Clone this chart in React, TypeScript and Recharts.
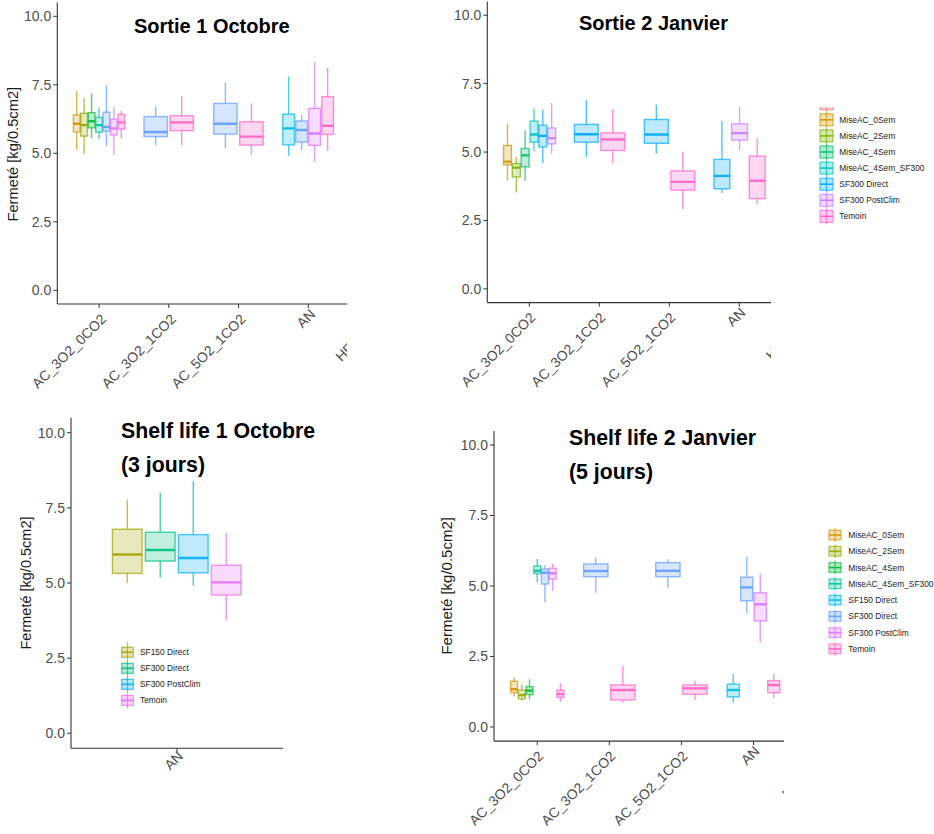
import React from 'react';
import { ComposedChart, Bar, XAxis, YAxis } from 'recharts';

type Stat = [number, number, number, number, number] | null; // [min, q1, median, q3, max]

const FONT = '"Liberation Sans", Arial, Helvetica, sans-serif';

// ---------- shared ----------
const yTicks = [0, 2.5, 5, 7.5, 10];
const yDomain = [-0.5, 10.5];
const hiddenLevelColor = '#F8766D';
const palette9 = ['#D39200', '#93AA00', '#00BA38', '#00C19F', '#00B9E3', '#619CFF', '#DB72FB', '#FF61C3'];
const palette8 = ['#CD9600', '#7CAE00', '#00BE67', '#00BFC4', '#00A9FF', '#C77CFF', '#FF61CC'];
const palette5 = ['#A3A500', '#00BF7D', '#00B0F6', '#E76BF3'];

// ---------- Panel 1 : Sortie 1 Octobre ----------
const sortie1Categories = ['AC_3O2_0CO2', 'AC_3O2_1CO2', 'AC_5O2_1CO2', 'AN', 'HF_1CO2'];
const sortie1Names = ['MiseAC_0Sem', 'MiseAC_2Sem', 'MiseAC_4Sem', 'MiseAC_4Sem_SF300', 'SF150 Direct', 'SF300 Direct', 'SF300 PostClim', 'Temoin'];
const s1MiseAC0Sem: Stat[] = [[5.12, 5.78, 6.08, 6.4, 7.27], null, null, null, null];
const s1MiseAC2Sem: Stat[] = [[4.97, 5.63, 6.03, 6.46, 7.03], null, null, null, null];
const s1MiseAC4Sem: Stat[] = [[5.55, 5.93, 6.17, 6.48, 7.19], null, null, null, null];
const s1MiseAC4SemSF300: Stat[] = [[5.51, 5.77, 6.03, 6.31, 6.66], null, null, null, null];
const s1SF150Direct: Stat[] = [null, null, null, [4.9, 5.31, 5.91, 6.43, 7.8], null];
const s1SF300Direct: Stat[] = [[5.27, 5.81, 5.96, 6.5, 7.49], [5.29, 5.61, 5.78, 6.34, 6.72], [5.18, 5.7, 6.08, 6.82, 7.59], [5.1, 5.41, 5.85, 6.18, 6.39], null];
const s1SF300PostClim: Stat[] = [[4.94, 5.67, 5.91, 6.24, 6.7], null, null, [4.69, 5.29, 5.72, 6.64, 8.33], null];
const s1Temoin: Stat[] = [[5.55, 5.88, 6.13, 6.42, 6.55], [5.29, 5.83, 6.13, 6.37, 7.09], [4.96, 5.3, 5.61, 6.15, 6.82], [5.08, 5.69, 6.0, 7.07, 8.12], null];

// ---------- Panel 2 : Sortie 2 Janvier ----------
const sortie2Categories = ['AC_3O2_0CO2', 'AC_3O2_1CO2', 'AC_5O2_1CO2', 'AN', 'HF_1CO2'];
const sortie2Names = ['MiseAC_0Sem', 'MiseAC_2Sem', 'MiseAC_4Sem', 'MiseAC_4Sem_SF300', 'SF300 Direct', 'SF300 PostClim', 'Temoin'];
const s2MiseAC0Sem: Stat[] = [[3.95, 4.53, 4.65, 5.24, 6.03], null, null, null, null];
const s2MiseAC2Sem: Stat[] = [[3.52, 4.09, 4.43, 4.58, 4.82], null, null, null, null];
const s2MiseAC4Sem: Stat[] = [[3.95, 4.46, 4.88, 5.13, 5.8], null, null, null, null];
const s2MiseAC4SemSF300: Stat[] = [[5.04, 5.36, 5.64, 6.13, 6.59], null, null, null, null];
const s2SF300Direct: Stat[] = [[4.59, 5.19, 5.59, 5.98, 6.55], [4.83, 5.36, 5.65, 6.01, 6.89], [4.95, 5.32, 5.64, 6.19, 6.73], [3.5, 3.66, 4.13, 4.73, 6.13], null];
const s2SF300PostClim: Stat[] = [[4.95, 5.3, 5.51, 5.88, 6.79], null, null, [5.06, 5.44, 5.69, 6.03, 6.65], null];
const s2Temoin: Stat[] = [null, [4.59, 5.06, 5.46, 5.7, 6.57], [2.92, 3.61, 3.91, 4.31, 5.01], [3.08, 3.3, 3.95, 4.85, 5.5], null];

// ---------- Panel 3 : Shelf life 1 Octobre ----------
const shelf1Categories = ['AN'];
const shelf1Names = ['SF150 Direct', 'SF300 Direct', 'SF300 PostClim', 'Temoin'];
const sh1SF150Direct: Stat[] = [[4.99, 5.32, 5.95, 6.79, 7.78]];
const sh1SF300Direct: Stat[] = [[5.18, 5.73, 6.1, 6.69, 8.0]];
const sh1SF300PostClim: Stat[] = [[4.91, 5.34, 5.83, 6.61, 8.39]];
const sh1Temoin: Stat[] = [[3.75, 4.6, 5.02, 5.59, 6.67]];

// ---------- Panel 4 : Shelf life 2 Janvier ----------
const shelf2Categories = ['AC_3O2_0CO2', 'AC_3O2_1CO2', 'AC_5O2_1CO2', 'AN', 'HF_1CO2'];
const shelf2Names = ['MiseAC_0Sem', 'MiseAC_2Sem', 'MiseAC_4Sem', 'MiseAC_4Sem_SF300', 'SF150 Direct', 'SF300 Direct', 'SF300 PostClim', 'Temoin'];
const sh2MiseAC0Sem: Stat[] = [[1.08, 1.22, 1.34, 1.62, 1.76], null, null, null, null];
const sh2MiseAC2Sem: Stat[] = [[0.93, 1.0, 1.13, 1.31, 1.52], null, null, null, null];
const sh2MiseAC4Sem: Stat[] = [[0.98, 1.15, 1.29, 1.43, 1.69], null, null, null, null];
const sh2MiseAC4SemSF300: Stat[] = [[5.13, 5.44, 5.54, 5.71, 5.96], null, null, null, null];
const sh2SF150Direct: Stat[] = [null, null, null, [0.86, 1.07, 1.31, 1.52, 1.88], null];
const sh2SF300Direct: Stat[] = [[4.42, 5.07, 5.47, 5.6, 5.74], [4.76, 5.33, 5.53, 5.78, 6.02], [4.92, 5.33, 5.54, 5.83, 5.95], [4.03, 4.48, 4.95, 5.31, 6.04], null];
const sh2SF300PostClim: Stat[] = [[4.83, 5.24, 5.45, 5.63, 5.8], null, null, [3.0, 3.76, 4.35, 4.76, 5.45], null];
const sh2Temoin: Stat[] = [[0.89, 1.05, 1.17, 1.3, 1.55], [0.86, 0.96, 1.31, 1.49, 2.16], [0.96, 1.16, 1.37, 1.49, 1.64], [1.02, 1.22, 1.49, 1.64, 1.9], null];

// ---------- helpers ----------
type Series = { name: string; color: string; stats: Stat[] };

function makeSeries(names: string[], colors: string[], stats: Stat[][]): Series[] {
  return names.map((name, i) => ({ name, color: colors[i], stats: stats[i] }));
}

function buildRows(categories: string[], series: Series[]) {
  return categories.map((cat, ci) => {
    const boxes = series
      .filter((s) => s.stats[ci])
      .map((s) => ({ color: s.color, stat: s.stats[ci] as [number, number, number, number, number] }));
    const range = boxes.length
      ? [Math.min(...boxes.map((b) => b.stat[0])), Math.max(...boxes.map((b) => b.stat[4]))]
      : null;
    return { cat, boxes, range };
  });
}

const series1 = makeSeries(sortie1Names, palette9, [s1MiseAC0Sem, s1MiseAC2Sem, s1MiseAC4Sem, s1MiseAC4SemSF300, s1SF150Direct, s1SF300Direct, s1SF300PostClim, s1Temoin]);
const series2 = makeSeries(sortie2Names, palette8, [s2MiseAC0Sem, s2MiseAC2Sem, s2MiseAC4Sem, s2MiseAC4SemSF300, s2SF300Direct, s2SF300PostClim, s2Temoin]);
const series3 = makeSeries(shelf1Names, palette5, [sh1SF150Direct, sh1SF300Direct, sh1SF300PostClim, sh1Temoin]);
const series4 = makeSeries(shelf2Names, palette9, [sh2MiseAC0Sem, sh2MiseAC2Sem, sh2MiseAC4Sem, sh2MiseAC4SemSF300, sh2SF150Direct, sh2SF300Direct, sh2SF300PostClim, sh2Temoin]);

const rows1 = buildRows(sortie1Categories, series1);
const rows2 = buildRows(sortie2Categories, series2);
const rows3 = buildRows(shelf1Categories, series3);
const rows4 = buildRows(shelf2Categories, series4);

function BoxGroupShape(props: any) {
  const { x, y, width, height, payload } = props;
  const boxes = payload && payload.boxes;
  if (!boxes || boxes.length === 0 || !payload.range) return <g />;
  const top = Math.min(y, y + height);
  const bottom = Math.max(y, y + height);
  const lo = payload.range[0];
  const hi = payload.range[1];
  const py = (v: number) => top + ((hi - v) / (hi - lo)) * (bottom - top);
  const n = boxes.length;
  const slot = width / n;
  return (
    <g>
      {boxes.map((b: any, i: number) => {
        const bw = slot * 0.9;
        const bx = x + i * slot + (slot - bw) / 2;
        const cx = bx + bw / 2;
        const [mn, q1, md, q3, mx] = b.stat;
        return (
          <g key={i}>
            <line x1={cx} x2={cx} y1={py(mx)} y2={py(q3)} stroke={b.color} strokeOpacity={0.7} strokeWidth={1.4} />
            <line x1={cx} x2={cx} y1={py(q1)} y2={py(mn)} stroke={b.color} strokeOpacity={0.7} strokeWidth={1.4} />
            <rect x={bx} y={py(q3)} width={bw} height={py(q1) - py(q3)} fill={b.color} fillOpacity={0.25} stroke={b.color} strokeOpacity={0.7} strokeWidth={1.4} />
            <line x1={bx} x2={bx + bw} y1={py(md)} y2={py(md)} stroke={b.color} strokeOpacity={0.9} strokeWidth={2.4} />
          </g>
        );
      })}
    </g>
  );
}

function makeXTick(dx: number, base: number) {
  return (props: any) => {
    const { x, y, payload } = props;
    const label = String(payload.value);
    const ax = x + dx;
    const ay = y + base + 0.55 * label.length;
    return (
      <text x={ax} y={ay} textAnchor="end" transform={`rotate(-45 ${ax} ${ay})`} fill="#4D4D4D" fontSize={14} fontFamily={FONT}>
        {label}
      </text>
    );
  };
}

type PanelProps = {
  rows: any[];
  width: number;
  height: number;
  marginTop: number;
  marginRight: number;
  yAxisWidth: number;
  xAxisHeight: number;
  pad: number;
  tickDx: number;
  tickBase: number;
};

function BoxPanel(p: PanelProps) {
  return (
    <ComposedChart
      width={p.width}
      height={p.height}
      data={p.rows}
      margin={{ top: p.marginTop, right: p.marginRight, left: 0, bottom: 0 }}
      barCategoryGap="12.5%"
    >
      <XAxis
        dataKey="cat"
        type="category"
        interval={0}
        height={p.xAxisHeight}
        padding={{ left: p.pad, right: p.pad }}
        tickSize={4}
        tickLine={{ stroke: '#333333' }}
        axisLine={{ stroke: '#333333', strokeWidth: 1.1 }}
        tick={makeXTick(p.tickDx, p.tickBase)}
      />
      <YAxis
        type="number"
        domain={yDomain}
        ticks={yTicks}
        allowDataOverflow
        width={p.yAxisWidth}
        tickSize={4}
        tickFormatter={(v: number) => v.toFixed(1)}
        tick={{ fill: '#4D4D4D', fontSize: 14, fontFamily: FONT }}
        tickLine={{ stroke: '#333333' }}
        axisLine={{ stroke: '#333333', strokeWidth: 1.1 }}
      />
      <Bar dataKey="range" isAnimationActive={false} shape={BoxGroupShape} />
    </ComposedChart>
  );
}

type LegendItem = { name: string; color: string };

function BoxLegend(props: {
  left: number; top: number; width: number; height: number;
  items: LegendItem[]; firstY: number; step: number;
  keyX: number; keyW: number; boxHalf: number; whiskHalf: number; textX: number;
}) {
  const { left, top, width, height, items, firstY, step, keyX, keyW, boxHalf, whiskHalf, textX } = props;
  return (
    <svg style={{ position: 'absolute', left, top }} width={width} height={height}>
      <g transform={`translate(${-left} ${-top})`}>
        {items.map((it, i) => {
          const cy = firstY + i * step;
          const cx = keyX + keyW / 2;
          return (
            <g key={i}>
              <line x1={cx} x2={cx} y1={cy - whiskHalf} y2={cy + whiskHalf} stroke={it.color} strokeOpacity={0.7} strokeWidth={1.2} />
              <rect x={keyX} y={cy - boxHalf} width={keyW} height={boxHalf * 2} fill={it.color} fillOpacity={0.3} stroke={it.color} strokeOpacity={0.7} strokeWidth={1.2} />
              <line x1={keyX} x2={keyX + keyW} y1={cy} y2={cy} stroke={it.color} strokeOpacity={0.9} strokeWidth={1.6} />
              {it.name ? (
                <text x={textX} y={cy + 3} fontSize={8.4} fill="#222" fontFamily={FONT}>{it.name}</text>
              ) : null}
            </g>
          );
        })}
      </g>
    </svg>
  );
}

const legend2Items: LegendItem[] = [{ name: '', color: hiddenLevelColor }, ...series2.map((s) => ({ name: s.name, color: s.color }))];
const legend3Items: LegendItem[] = [{ name: '', color: hiddenLevelColor }, ...series3.map((s) => ({ name: s.name, color: s.color }))];
const legend4Items: LegendItem[] = series4.map((s) => ({ name: s.name, color: s.color }));

const yTitle = 'Fermeté [kg/0.5cm2]';

export default function App() {
  return (
    <div style={{ position: 'absolute', left: 0, top: 0, width: 934, height: 834, overflow: 'hidden', background: '#ffffff', fontFamily: FONT }}>
      {/* Panel 1 */}
      <div style={{ position: 'absolute', left: 0, top: 0, width: 347, height: 400, overflow: 'hidden' }}>
        <div style={{ position: 'absolute', left: 0, top: 0 }}>
          <BoxPanel rows={rows1} width={430} height={400} marginTop={2.6} marginRight={10.2} yAxisWidth={57.3} xAxisHeight={96} pad={6.98} tickDx={8} tickBase={3.9} />
        </div>
      </div>
      {/* Panel 2 */}
      <div style={{ position: 'absolute', left: 450, top: 0, width: 321, height: 400, overflow: 'hidden' }}>
        <div style={{ position: 'absolute', left: -20, top: 0 }}>
          <BoxPanel rows={rows2} width={431.3} height={400} marginTop={1.5} marginRight={10} yAxisWidth={57.3} xAxisHeight={97.4} pad={7} tickDx={7} tickBase={3.9} />
        </div>
      </div>
      <BoxLegend left={815} top={107} width={119} height={125} items={legend2Items} firstY={103.7} step={16.1} keyX={820} keyW={13} boxHalf={6} whiskHalf={8} textX={839.3} />
      {/* Panel 3 */}
      <div style={{ position: 'absolute', left: 14, top: 410 }}>
        <BoxPanel rows={rows3} width={271} height={424} marginTop={7.7} marginRight={2} yAxisWidth={57} xAxisHeight={85.7} pad={17.67} tickDx={7} tickBase={1.6} />
      </div>
      <BoxLegend left={115} top={641.5} width={100} height={70} items={legend3Items} firstY={635.7} step={16.05} keyX={121.7} keyW={11.6} boxHalf={5} whiskHalf={8} textX={140} />
      {/* Panel 4 */}
      <div style={{ position: 'absolute', left: 437, top: 420, width: 347, height: 414, overflow: 'hidden' }}>
        <div style={{ position: 'absolute', left: 0, top: 0 }}>
          <BoxPanel rows={rows4} width={436.9} height={414} marginTop={10.9} marginRight={5} yAxisWidth={57} xAxisHeight={92.9} pad={7.21} tickDx={7} tickBase={3.9} />
        </div>
      </div>
      <BoxLegend left={822} top={522} width={112} height={140} items={legend4Items} firstY={535} step={16.27} keyX={829} keyW={12} boxHalf={4.8} whiskHalf={7} textX={848.3} />
      {/* Titles and axis titles */}
      <svg style={{ position: 'absolute', left: 0, top: 0, pointerEvents: 'none' }} width={934} height={834}>
        <g fontFamily={FONT} fontWeight="bold" fill="#000">
          <text x={134} y={33.3} fontSize={20}>Sortie 1 Octobre</text>
          <text x={579} y={30} fontSize={20}>Sortie 2 Janvier</text>
          <text x={121} y={438.3} fontSize={21.3}>Shelf life 1 Octobre</text>
          <text x={121} y={472.3} fontSize={21.3}>(3 jours)</text>
          <text x={569} y={445} fontSize={21.3}>Shelf life 2 Janvier</text>
          <text x={569} y={479} fontSize={21.3}>(5 jours)</text>
        </g>
        <g fontFamily={FONT} fill="#1A1A1A" textAnchor="middle">
          <text x={17.8} y={154.2} fontSize={14.7} transform="rotate(-90 17.8 154.2)">{yTitle}</text>
          <text x={30.5} y={583} fontSize={14.5} transform="rotate(-90 30.5 583)">{yTitle}</text>
          <text x={452} y={585.8} fontSize={15} transform="rotate(-90 452 585.8)">{yTitle}</text>
        </g>
      </svg>
    </div>
  );
}
